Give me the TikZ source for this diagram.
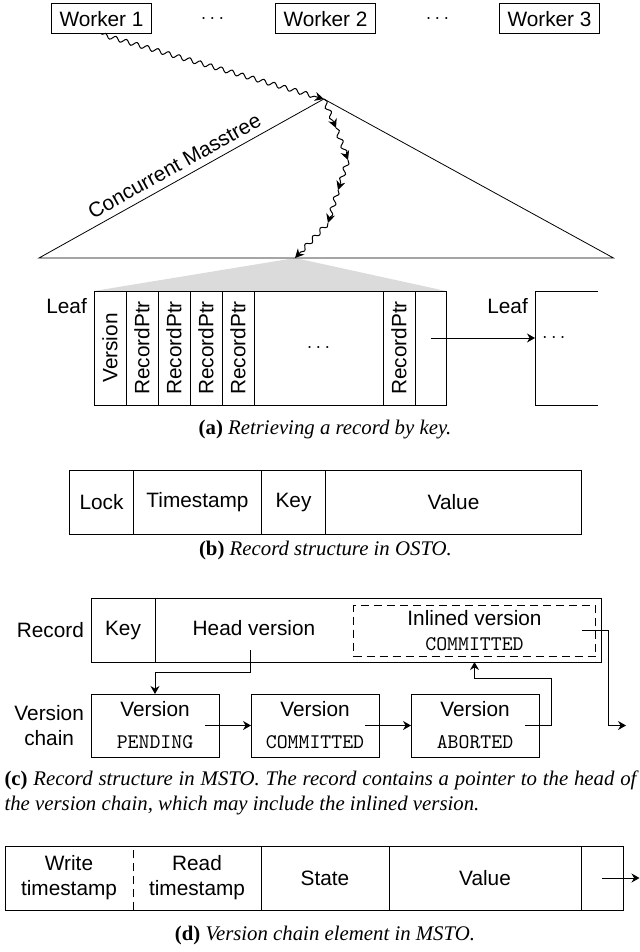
\documentclass[tikz,border=0pt]{standalone}
\usepackage{fontspec}
\usepackage{graphicx}
\setmainfont{Liberation Sans}
\newfontfamily\capfont{Liberation Serif}
\usetikzlibrary{positioning,calc,backgrounds,arrows.meta,decorations.pathmorphing}

\begin{document}
\begin{tikzpicture}[
        x=0.5pt, y=-0.5pt,
        line width=0.5pt,
        every node/.style={font=\fontsize{10.4}{12.5}\selectfont},
        cellbox/.style={draw, inner sep=0pt, outer sep=0pt, anchor=north west, minimum height=32pt},
        worker/.style={draw, inner sep=0pt, minimum width=50pt, minimum height=15pt},
        leafcell/.style={cellbox, minimum width=16pt, minimum height=57pt},
        vbox/.style={cellbox, align=center, minimum width=64pt, minimum height=31.5pt},
        ptr/.style={-{Stealth[length=4pt,width=4.5pt]}},
        wavy/.style={-{Stealth[length=4.5pt,width=4.5pt]}, decorate,
                decoration={snake, amplitude=1.1pt, segment length=5.5pt, post length=2.5pt}},
        caption/.style={font=\capfont\fontsize{10.4}{12.5}\selectfont}
    ]
    \useasboundingbox (0,0) rectangle (640,952);

    \node[worker] (w1) at (101.5,19) {Worker 1};
    \node (dots1) at (212.5,19) {$\cdots$};
    \node[worker] (w2) at (325.5,19) {Worker 2};
    \node (dots2) at (437.5,19) {$\cdots$};
    \node[worker] (w3) at (549.5,19) {Worker 3};

    \coordinate (top) at (323.8,99);
    \coordinate (tl) at (39,258);
    \coordinate (tr) at (613.5,258);
    \coordinate (hit) at (295,258);
    \coordinate (s1) at (336,128);
    \coordinate (s2) at (348,160);
    \coordinate (s3) at (338,190);
    \coordinate (s4) at (328,223);

    \node[leafcell] (ver) at (94,291) {\rotatebox{90}{Version}};
    \foreach \c [remember=\c as \p (initially ver)] in {rp1,rp2,rp3,rp4}
        \node[leafcell, right=0pt of \p] (\c) {\rotatebox{90}{RecordPtr}};
    \node[leafcell, minimum width=64.5pt, right=0pt of rp4] (gap) {$\cdots$};
    \node[leafcell, right=0pt of gap] (rp5) {\rotatebox{90}{RecordPtr}};
    \node[leafcell, minimum width=15.5pt, right=0pt of rp5] (nextcell) {};
    \node[anchor=north east] (leaflbl) at (ver.north west) {Leaf};

    \begin{scope}[on background layer]
        \fill[black!14] (hit) -- (ver.north west) -- (nextcell.north east) -- cycle;
    \end{scope}
    \draw[line width=0.4pt] (tl) -- node[sloped, above, pos=0.5] (treelbl) {Concurrent Masstree} (top) -- (tr) -- cycle;
    \draw[wavy] (w1.south) -- (top);
    \foreach \a/\b in {top/s1, s1/s2, s2/s3, s3/s4, s4/hit}
        \draw[wavy] (\a) -- (\b);

    \node[minimum width=31.5pt, minimum height=57pt, inner sep=0pt, outer sep=0pt, anchor=north west] (nxleaf) at (535,291) {};
    \draw (nxleaf.north east) -- (nxleaf.north west) -- (nxleaf.south west) -- (nxleaf.south east);
    \node[anchor=north east] (nxlbl) at (nxleaf.north west) {Leaf};
    \draw[ptr] ([yshift=5pt]nextcell.center) -- ([yshift=5pt]nextcell.center -| nxleaf.west) node[right] (nxdots) {$\cdots$};
    \node[caption] (capa) at (325,430) {\textbf{(a)} \textit{Retrieving a record by key.}};

    \node[cellbox, minimum width=32pt] (lock) at (69.5,470) {Lock};
    \node[cellbox, minimum width=64pt, right=0pt of lock] (stamp) {Timestamp};
    \node[cellbox, minimum width=32pt, right=0pt of stamp] (okey) {Key};
    \node[cellbox, minimum width=128pt, right=0pt of okey] (oval) {Value};
    \node[caption] (capb) at (325.5,550) {\textbf{(b)} \textit{Record structure in OSTO.}};

    \node[cellbox, minimum width=32pt] (rkey) at (91,598) {Key};
    \node[cellbox, minimum width=223.25pt, right=0pt of rkey] (rhead) {};
    \node (headlbl) at (254,628) {Head version};
    \node[draw, dash pattern=on 4pt off 2.5pt, inner sep=0pt, anchor=north west, align=center,
        minimum width=121pt, minimum height=25.5pt] (inl) at (353,605) {Inlined version\\\texttt{COMMITTED}};
    \node[anchor=east] (reclbl) at (rkey.west) {Record};

    \node[vbox] (v1) at (91,694) {Version\\[3.5pt]\texttt{PENDING}};
    \node[vbox, right=16pt of v1] (v2) {Version\\[3.5pt]\texttt{COMMITTED}};
    \node[vbox, right=16pt of v2] (v3) {Version\\[3.5pt]\texttt{ABORTED}};
    \node[anchor=east, align=center] (chainlbl) at (v1.west) {Version\\chain};

    \coordinate (hptr) at (250.5,650);
    \coordinate (iptr) at (582,630.7);
    \coordinate (iend) at (626,725.5);
    \draw[ptr] (hptr) |- ($(v1.north)+(0,11pt)$) -- (v1.north);
    \draw[ptr] ([xshift=-7pt]v1.east) -- (v2.west);
    \draw[ptr] ([xshift=-7pt]v2.east) -- (v3.west);
    \draw[ptr] ([xshift=-7pt]v3.east) -- ++(13pt,0) |- ($(inl.south |- rhead.south)+(0,-8pt)$) -- (inl.south |- rhead.south);
    \draw[ptr] (iptr) -- ++(13pt,0) |- (iend);
    \node[caption, anchor=north west, text width=316pt, align=justify, inner sep=0pt] (capc) at (4,770)
        {\textbf{(c)} \textit{Record structure in MSTO. The record contains a pointer to the head of\linebreak the version chain, which may include the inlined version.}};

    \node[cellbox, minimum width=128pt] (tsd) at (5,846) {};
    \node[align=center] (wts) at ($(tsd.center)+(-32pt,0)$) {Write\\timestamp};
    \node[align=center] (rts) at ($(tsd.center)+(32pt,0)$) {Read\\timestamp};
    \draw[dash pattern=on 4pt off 2.5pt] (tsd.south) -- (tsd.north);
    \node[cellbox, minimum width=64pt, right=0pt of tsd] (dstate) {State};
    \node[cellbox, minimum width=96pt, right=0pt of dstate] (dval) {Value};
    \node[cellbox, minimum width=21pt, right=0pt of dval] (dnext) {};
    \coordinate (dend) at (639.5,878);
    \draw[ptr] (dnext.center) -- (dend);
    \node[caption] (capd) at (325,935) {\textbf{(d)} \textit{Version chain element in MSTO.}};
\end{tikzpicture}
\end{document}
